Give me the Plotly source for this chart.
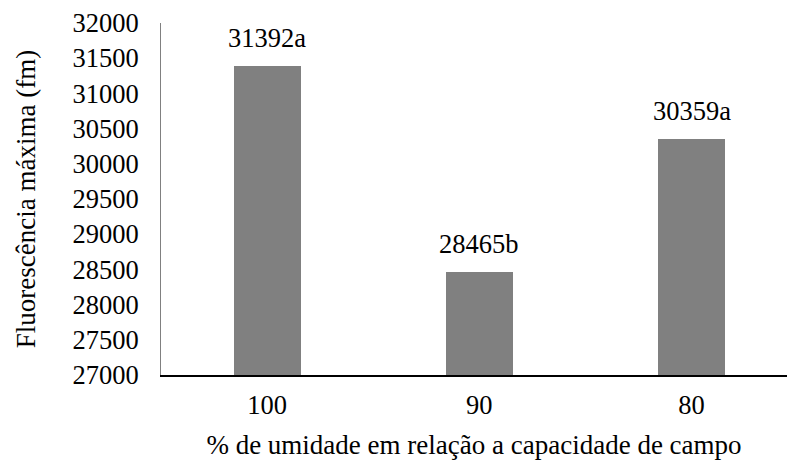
import plotly.graph_objects as go

# Data
categorias = ['100', '90', '80']
valores = [31392, 28465, 30359]
letras = ['a', 'b', 'a']
ticks_y = list(range(27000, 32001, 500))

FONT = 'Liberation Serif'
SIZE = 26.5
TITLE_SIZE = 27

fig = go.Figure()

fig.add_trace(go.Bar(
    x=categorias,
    y=valores,
    width=0.316,
    marker=dict(color='#808080', line=dict(width=0)),
    showlegend=False,
))

# Value labels above the bars (x by category index)
for i, (val, letra) in enumerate(zip(valores, letras)):
    fig.add_annotation(
        x=i, y=val, xref='x', yref='y', text=f'{val}{letra}',
        showarrow=False, yanchor='bottom', yshift=11,
        font=dict(family=FONT, size=SIZE, color='#000000'),
    )

fig.update_layout(
    template='none',
    width=787, height=461,
    margin=dict(l=161, r=0, t=23, b=86),
    paper_bgcolor='white',
    plot_bgcolor='white',
    font=dict(family=FONT, size=SIZE, color='#000000'),
    bargap=0,
)

fig.update_xaxes(
    type='category',
    range=[-0.5, 2.45],
    automargin=False,
    showline=True, linecolor='#000000', linewidth=1.5,
    showgrid=False, ticks='',
    tickfont=dict(family=FONT, size=SIZE),
    ticklabelstandoff=5,
    title=dict(text='% de umidade em relação a capacidade de campo',
               standoff=17, font=dict(family=FONT, size=TITLE_SIZE)),
)

fig.update_yaxes(
    range=[27000, 32000],
    automargin=False,
    tickvals=ticks_y,
    ticktext=[str(v) for v in ticks_y],
    showline=True, linecolor='#808080', linewidth=1,
    showgrid=False, zeroline=False, ticks='',
    tickfont=dict(family=FONT, size=SIZE),
    ticklabelstandoff=16,
    title=dict(text='Fluorescência máxima (fm)', standoff=29,
               font=dict(family=FONT, size=TITLE_SIZE)),
)

fig.write_html('out.html', config={'displayModeBar': False},
               post_script="document.body.style.margin='0';")
